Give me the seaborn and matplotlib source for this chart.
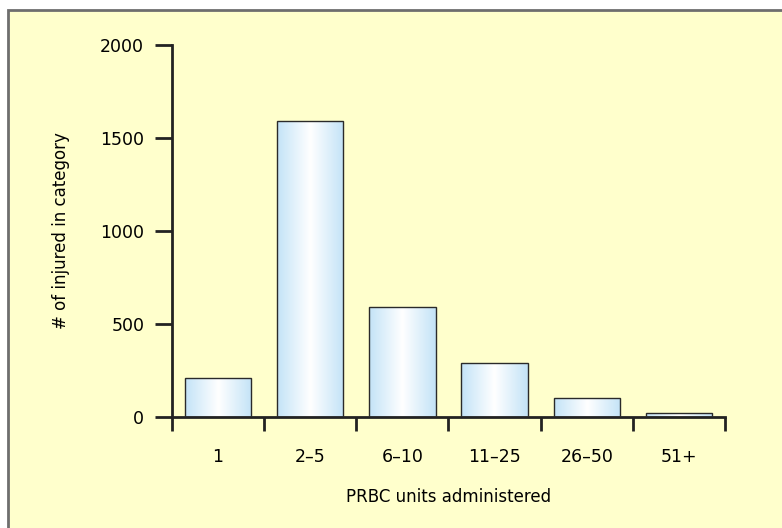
import numpy as np
import pandas as pd
import seaborn as sns
import matplotlib.pyplot as plt
from matplotlib.patches import Rectangle
from matplotlib.colors import LinearSegmentedColormap

categories = ["1", "2\u20135", "6\u201310", "11\u201325", "26\u201350", "51+"]
injured = [210, 1590, 590, 290, 100, 20]

BG = "#ffffcc"
df = pd.DataFrame({"units": categories, "count": injured})

sns.set_style("white")
plt.rcParams["font.family"] = ["DejaVu Sans"]
plt.rcParams["text.color"] = "black"
plt.rcParams["axes.labelcolor"] = "black"
plt.rcParams["xtick.color"] = "black"
plt.rcParams["ytick.color"] = "black"

fig = plt.figure(figsize=(7.82, 5.28), dpi=100)
fig.patch.set_facecolor("white")
# pale yellow panel with grey frame on left / top
fig.patches.append(Rectangle((8 / 782, -0.1), 1.2, 1 - 10 / 528 + 0.1,
                             transform=fig.transFigure, facecolor=BG,
                             edgecolor="#6e6e6e", linewidth=2, zorder=-1))

ax = fig.add_axes([172 / 782, 1 - 417 / 528, (725 - 172) / 782, (417 - 45) / 528])
ax.set_facecolor("none")

sns.barplot(data=df, x="units", y="count", ax=ax, width=0.72,
            color="white", edgecolor="#2a2a2a", linewidth=1.0, zorder=2)

# horizontal gradient fill: light blue edges, white centre
cmap = LinearSegmentedColormap.from_list("g", ["#c3e3f7", "#ffffff", "#c3e3f7"])
grad = np.linspace(0, 1, 256).reshape(1, -1)
for p in ax.patches:
    x0, y0 = p.get_x(), p.get_y()
    w, h = p.get_width(), p.get_height()
    im = ax.imshow(grad, cmap=cmap, aspect="auto", extent=(x0, x0 + w, y0, y0 + h),
                   zorder=1.5, interpolation="bicubic")
    im.set_clip_path(p)
    p.set_facecolor("none")
    p.set_zorder(3)

ax.set_xlim(-0.5, len(categories) - 0.5)
ax.set_ylim(0, 2000)
ax.set_yticks([0, 500, 1000, 1500, 2000])

sns.despine(ax=ax)
for s in ["left", "bottom"]:
    ax.spines[s].set_linewidth(2)
    ax.spines[s].set_color("#222222")

ax.tick_params(axis="y", left=True, length=12, width=2, color="#222222",
               pad=8, labelsize=12.5)
ax.set_xticks(np.arange(len(categories)))
ax.set_xticklabels(categories)
ax.set_xticks(np.arange(-0.5, len(categories)), minor=True)
ax.tick_params(axis="x", which="major", bottom=True, length=0, pad=22, labelsize=12.5)
ax.tick_params(axis="x", which="minor", bottom=True, length=10, width=2, color="#222222")

ax.set_xlabel("PRBC units administered", fontsize=12, labelpad=16)
ax.set_ylabel("# of injured in category", fontsize=12, labelpad=22)

fig.savefig("out.png", dpi=100)
